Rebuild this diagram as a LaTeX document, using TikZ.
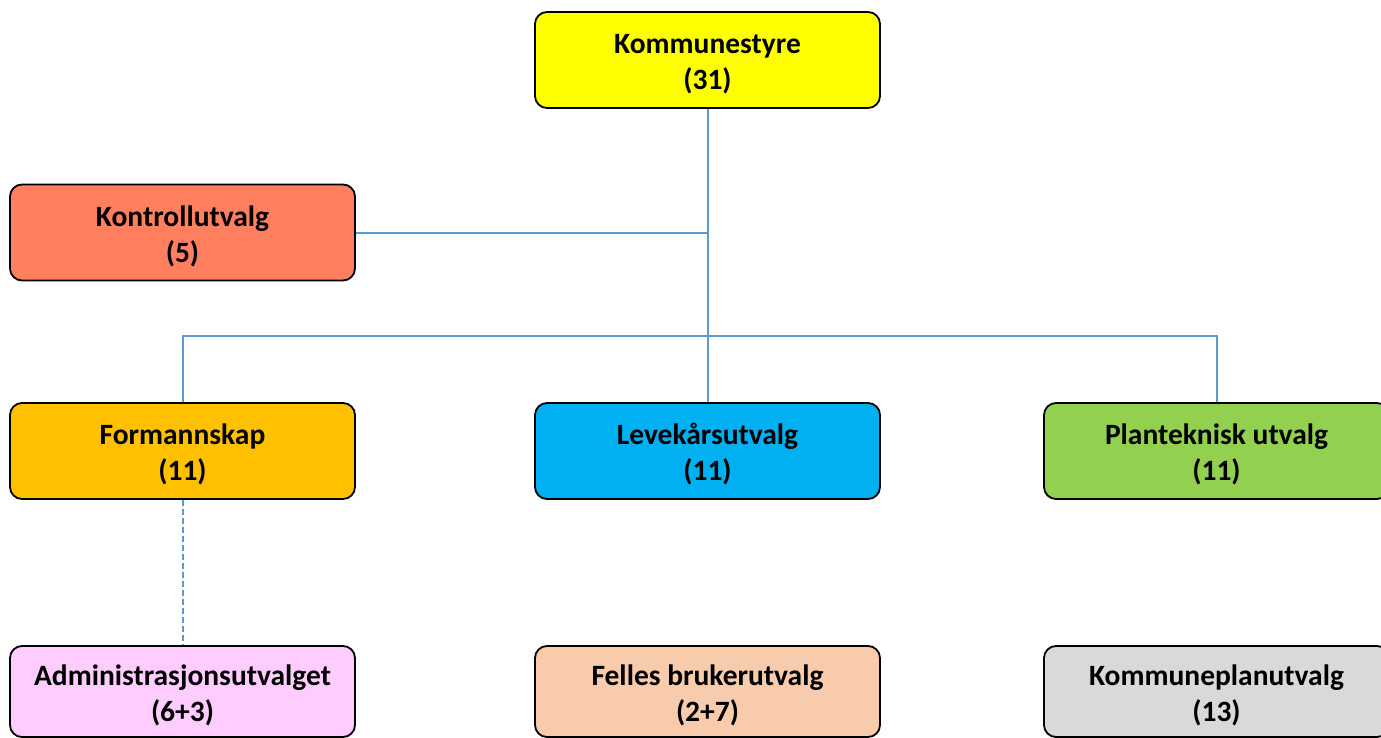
\documentclass[tikz,border=0pt]{standalone}
\usepackage{fontspec}
\setmainfont{Carlito}
\newcommand\upl{\rule{0pt}{28pt}}
\begin{document}
\begin{tikzpicture}[x=1pt,y=-1pt,
  box/.style={draw=black,line width=1.8pt,rounded corners=12pt,align=center,
    minimum width=345pt,minimum height=96pt,inner sep=0pt,
    font=\fontsize{29.5}{36}\selectfont\bfseries},
  conn/.style={draw=lineblue,line width=2pt}]
\definecolor{lineblue}{HTML}{5B9BD5}
\definecolor{cyellow}{HTML}{FFFF00}
\definecolor{ccoral}{HTML}{FF7F5F}
\definecolor{corange}{HTML}{FFC000}
\definecolor{ccyan}{HTML}{00B0F0}
\definecolor{cgreen}{HTML}{92D050}
\definecolor{cpink}{HTML}{FFCCFF}
\definecolor{cpeach}{HTML}{F8CBAD}
\definecolor{cgrey}{HTML}{D9D9D9}
\useasboundingbox (0,0) rectangle (1381,738);
\begin{scope}
\clip (0,0) rectangle (1381,738);
\node[box,fill=cyellow] (ks) at (707.5,60) {\upl Kommunestyre\\(31)};
\node[box,fill=ccoral] (ku) at (182.5,232.5) {\upl Kontrollutvalg\\(5)};
\node[box,fill=corange] (fs) at (182.5,451) {\upl Formannskap\\(11)};
\node[box,fill=ccyan] (lu) at (707.5,451) {\upl Levekårsutvalg\\(11)};
\node[box,fill=cgreen] (pu) at (1216.5,451) {\upl Planteknisk utvalg\\(11)};
\node[box,fill=cpink,minimum height=91pt] (au) at (182.5,691.5) {\upl Administrasjonsutvalget\\(6+3)};
\node[box,fill=cpeach,minimum height=91pt] (fb) at (707.5,691.5) {\upl Felles brukerutvalg\\(2+7)};
\node[box,fill=cgrey,minimum height=91pt] (kp) at (1216.5,691.5) {\upl Kommuneplanutvalg\\(13)};
\end{scope}
\coordinate (hl) at (707.5,336);
\draw[conn] (ks.south) -- (lu.north);
\draw[conn] (ku.east) -- (ks.south |- ku.east);
\draw[conn] (fs.north) |- (pu.north |- hl) -- (pu.north);
\draw[conn,dashed,dash pattern=on 6pt off 3pt] (fs.south) -- (au.north);
\end{tikzpicture}
\end{document}
